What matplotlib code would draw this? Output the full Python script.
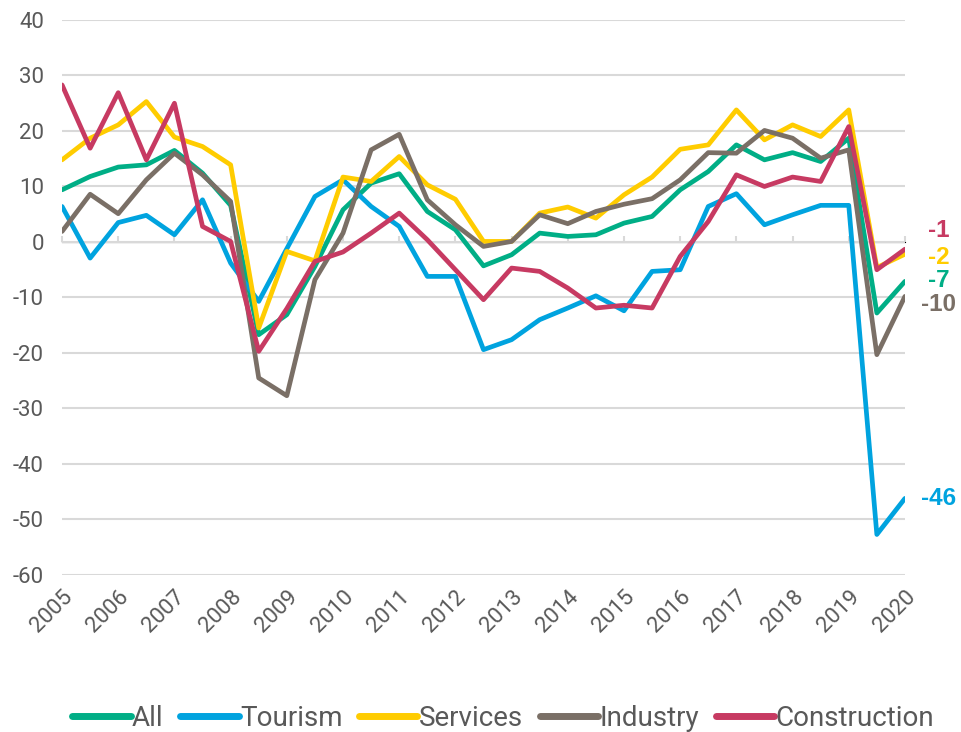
import numpy as np
import matplotlib
matplotlib.use("Agg")
import matplotlib.pyplot as plt

plt.rcParams['font.family'] = ['Roboto', 'DejaVu Sans']
plt.rcParams['axes.unicode_minus'] = False

# half-yearly observations, 2005 .. 2020
periods = np.arange(31) * 0.5 + 2005
years = list(range(2005, 2021))

all_ = [9.4, 11.8, 13.5, 13.9, 16.5, 12.4, 6.6, -16.7, -13.1, -4.4,
        5.8, 10.6, 12.3, 5.5, 2.2, -4.3, -2.3, 1.6, 1.0, 1.3,
        3.4, 4.6, 9.4, 12.7, 17.5, 14.8, 16.1, 14.5, 18.7, -12.8, -7.1]
tourism = [6.4, -2.9, 3.5, 4.8, 1.3, 7.6, -3.8, -10.7, -1.2, 8.2,
           11.2, 6.4, 2.8, -6.2, -6.2, -19.4, -17.6, -14.0, -11.9, -9.7,
           -12.4, -5.3, -5.0, 6.4, 8.7, 3.1, 4.9, 6.6, 6.6, -52.7, -46.2]
services = [14.8, 18.7, 21.1, 25.3, 18.9, 17.2, 13.9, -15.5, -1.7, -3.4,
            11.7, 10.9, 15.4, 10.3, 7.7, 0.1, 0.1, 5.2, 6.3, 4.3,
            8.5, 11.7, 16.7, 17.5, 23.8, 18.4, 21.1, 19.0, 23.8, -4.6, -2.2]
industry = [1.9, 8.6, 5.1, 11.2, 16.0, 12.1, 7.3, -24.5, -27.7, -6.8,
            1.6, 16.6, 19.4, 7.6, 3.1, -0.8, 0.1, 4.9, 3.3, 5.5,
            6.8, 7.8, 11.2, 16.1, 16.0, 20.1, 18.7, 15.1, 16.6, -20.3, -9.8]
construction = [28.3, 16.9, 26.9, 14.8, 25.0, 2.8, 0.1, -19.7, -12.0, -3.5,
                -1.8, 1.6, 5.2, 0.4, -5.0, -10.4, -4.7, -5.3, -8.3, -11.9,
                -11.4, -11.9, -2.6, 3.7, 12.1, 10.0, 11.7, 10.9, 20.8, -5.0, -1.3]

series = [
    ("All", all_, "#00AE86"),
    ("Tourism", tourism, "#00A3DF"),
    ("Services", services, "#FFCC00"),
    ("Industry", industry, "#7A6F66"),
    ("Construction", construction, "#C73A62"),
]
end_labels = {"Construction": -1, "Services": -2, "All": -7, "Industry": -10, "Tourism": -46}
# vertical spots for the end labels so they don't overlap
label_y = {"Construction": 2.0, "Services": -2.8, "All": -7.0, "Industry": -11.2, "Tourism": -46.3}

text_grey = "#595959"
grid_grey = "#D9D9D9"

fig = plt.figure(figsize=(9.62, 7.32), dpi=100)
ax = fig.add_axes([0.0645, 0.2145, 0.8762, 0.7582])

for name, vals, col in series:
    ax.plot(periods, vals, color=col, lw=3.4, label=name, solid_joinstyle='round',
            solid_capstyle='round', zorder=3)

for name, vals, col in series:
    ax.text(2020.6, label_y[name], str(end_labels[name]), color=col, fontsize=17.5,
            fontweight='heavy', ha='center', va='center', family=['Liberation Sans'],
            clip_on=False)

ax.set_xlim(2005, 2020)
ax.set_ylim(-60, 40)
ax.set_yticks(range(-60, 41, 10))
ax.set_xticks(years)
ax.set_xticklabels([str(y) for y in years], rotation=45, ha='right', va='top',
                   rotation_mode='anchor')
ax.tick_params(axis='x', length=0, pad=8, labelsize=16, labelcolor=text_grey)
ax.tick_params(axis='y', length=0, pad=13, labelsize=16, labelcolor=text_grey)
ax.grid(axis='y', color=grid_grey, lw=1.5, zorder=0)
for s in ax.spines.values():
    s.set_visible(False)

# axis line at zero with small year ticks
zero_ax = ax.secondary_xaxis(0.6)
zero_ax.set_xticks(years)
zero_ax.set_xticklabels([])
zero_ax.tick_params(length=4, width=1.5, color=grid_grey, direction='out')
zero_ax.spines['bottom'].set_color(grid_grey)
zero_ax.spines['bottom'].set_linewidth(1.5)

leg = fig.legend(loc='lower center', bbox_to_anchor=(0.523, -0.034), ncol=5, frameon=False,
                 fontsize=20, handlelength=2.1, handletextpad=0.05, columnspacing=0.6)
for t in leg.get_texts():
    t.set_color(text_grey)
for h in leg.legend_handles:
    h.set_linewidth(5)

fig.savefig("out.png", dpi=100)
